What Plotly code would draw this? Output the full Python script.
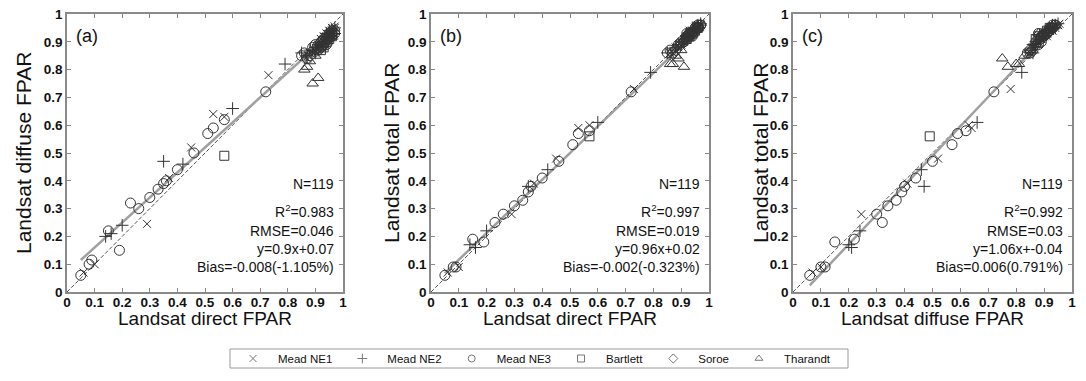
import plotly.graph_objects as go

# ---------------- data (direct FPAR, diffuse FPAR, total FPAR) ----------------
ne1_direct  = [0.06, 0.10, 0.29, 0.37, 0.45, 0.53, 0.57, 0.73,
               0.86, 0.87, 0.88, 0.89, 0.90, 0.91, 0.91, 0.92, 0.93, 0.93, 0.94, 0.94, 0.95, 0.95, 0.96, 0.96, 0.97, 0.97,
               0.93, 0.95, 0.96, 0.94, 0.92, 0.97]
ne1_diffuse = [0.07, 0.10, 0.245, 0.41, 0.52, 0.64, 0.63, 0.78,
               0.85, 0.84, 0.86, 0.86, 0.87, 0.88, 0.89, 0.89, 0.90, 0.91, 0.91, 0.92, 0.92, 0.93, 0.93, 0.94, 0.94, 0.95,
               0.92, 0.94, 0.95, 0.93, 0.91, 0.955]
ne1_total   = [0.07, 0.09, 0.28, 0.39, 0.48, 0.59, 0.60, 0.73,
               0.86, 0.86, 0.88, 0.88, 0.89, 0.90, 0.91, 0.91, 0.92, 0.93, 0.93, 0.94, 0.94, 0.95, 0.95, 0.96, 0.96, 0.96,
               0.94, 0.95, 0.96, 0.94, 0.92, 0.965]

ne2_direct  = [0.14, 0.16, 0.20, 0.35, 0.42, 0.60, 0.79,
               0.85, 0.87, 0.88, 0.89, 0.90, 0.90, 0.91, 0.92, 0.92, 0.93, 0.94, 0.94, 0.95, 0.95, 0.96, 0.96, 0.97,
               0.93, 0.95, 0.96, 0.97, 0.91, 0.94]
ne2_diffuse = [0.20, 0.21, 0.24, 0.47, 0.46, 0.66, 0.82,
               0.86, 0.85, 0.87, 0.87, 0.88, 0.86, 0.89, 0.90, 0.88, 0.91, 0.90, 0.92, 0.91, 0.93, 0.92, 0.94, 0.93,
               0.89, 0.94, 0.91, 0.95, 0.87, 0.93]
ne2_total   = [0.17, 0.16, 0.22, 0.38, 0.44, 0.61, 0.79,
               0.86, 0.87, 0.88, 0.89, 0.90, 0.89, 0.91, 0.92, 0.91, 0.93, 0.93, 0.94, 0.94, 0.95, 0.95, 0.96, 0.96,
               0.92, 0.95, 0.94, 0.965, 0.90, 0.95]

ne3_direct  = [0.05, 0.08, 0.09, 0.15, 0.19, 0.23, 0.26, 0.30, 0.33, 0.35, 0.36, 0.40, 0.46, 0.51, 0.53, 0.57, 0.72,
               0.85, 0.86, 0.88, 0.89, 0.90, 0.91, 0.92, 0.92, 0.93, 0.94, 0.95, 0.96, 0.96, 0.97,
               0.93, 0.95, 0.94, 0.96, 0.97, 0.87]
ne3_diffuse = [0.06, 0.10, 0.115, 0.22, 0.15, 0.32, 0.30, 0.34, 0.37, 0.39, 0.40, 0.44, 0.50, 0.57, 0.59, 0.62, 0.72,
               0.85, 0.86, 0.85, 0.88, 0.89, 0.87, 0.90, 0.88, 0.89, 0.91, 0.92, 0.93, 0.92, 0.94,
               0.91, 0.93, 0.89, 0.94, 0.93, 0.84]
ne3_total   = [0.06, 0.09, 0.09, 0.19, 0.18, 0.25, 0.28, 0.31, 0.33, 0.36, 0.38, 0.41, 0.47, 0.53, 0.57, 0.58, 0.72,
               0.86, 0.87, 0.87, 0.89, 0.90, 0.90, 0.92, 0.93, 0.92, 0.93, 0.94, 0.95, 0.95, 0.96,
               0.93, 0.95, 0.92, 0.96, 0.96, 0.86]

bar_direct  = [0.57, 0.92, 0.93, 0.94, 0.95, 0.96]
bar_diffuse = [0.49, 0.87, 0.88, 0.90, 0.91, 0.92]
bar_total   = [0.56, 0.91, 0.92, 0.93, 0.94, 0.95]

sor_direct  = [0.90, 0.91, 0.92, 0.93, 0.94, 0.95, 0.96]
sor_diffuse = [0.87, 0.88, 0.90, 0.89, 0.91, 0.92, 0.93]
sor_total   = [0.89, 0.90, 0.92, 0.92, 0.93, 0.94, 0.95]

tha_direct  = [0.89, 0.91, 0.86, 0.87, 0.88, 0.90, 0.92, 0.93]
tha_diffuse = [0.75, 0.77, 0.80, 0.81, 0.83, 0.85, 0.88, 0.89]
tha_total   = [0.84, 0.81, 0.82, 0.82, 0.85, 0.87, 0.93, 0.92]

site_names = ["Mead NE1", "Mead NE2", "Mead NE3", "Bartlett", "Soroe", "Tharandt"]
site_symbols = ["x-thin-open", "cross-thin-open", "circle-open", "square-open", "diamond-open", "triangle-up-open"]
site_sizes = [8, 9, 10, 9, 9, 10]

panel_labels = ["(a)", "(b)", "(c)"]
x_titles = ["Landsat direct FPAR", "Landsat direct FPAR", "Landsat diffuse FPAR"]
y_titles = ["Landsat diffuse FPAR", "Landsat total FPAR", "Landsat total FPAR"]
n_obs = [119, 119, 119]
r2_vals = ["0.983", "0.997", "0.992"]
rmse_vals = ["0.046", "0.019", "0.03"]
slopes = [0.9, 0.96, 1.06]
intercepts = [0.07, 0.02, -0.04]
eq_texts = ["y=0.9x+0.07", "y=0.96x+0.02", "y=1.06x+-0.04"]
bias_texts = ["Bias=-0.008(-1.105%)", "Bias=-0.002(-0.323%)", "Bias=0.006(0.791%)"]
fit_ranges = [(0.05, 0.97), (0.05, 0.97), (0.06, 0.95)]

ticks = [0, 0.1, 0.2, 0.3, 0.4, 0.5, 0.6, 0.7, 0.8, 0.9, 1]
tick_text = ["0", "0.1", "0.2", "0.3", "0.4", "0.5", "0.6", "0.7", "0.8", "0.9", "1"]

# ---------------- figure ----------------
sites = {
    "direct": [ne1_direct, ne2_direct, ne3_direct, bar_direct, sor_direct, tha_direct],
    "diffuse": [ne1_diffuse, ne2_diffuse, ne3_diffuse, bar_diffuse, sor_diffuse, tha_diffuse],
    "total": [ne1_total, ne2_total, ne3_total, bar_total, sor_total, tha_total],
}
panel_xy = [("direct", "diffuse"), ("direct", "total"), ("diffuse", "total")]

FONT = "Liberation Sans, Arial, sans-serif"
fig = go.Figure()

W, H = 1086, 381
ml, mr, mt, mb = 67, 14, 14, 89
pw = W - ml - mr
ph = H - mt - mb
px_domains = [(67, 343), (431, 709), (793, 1072)]
domains = [((a - ml) / pw, (b - ml) / pw) for a, b in px_domains]
ytitle_shift = [-44, -40, -33]

for p in range(3):
    xa = "x" if p == 0 else f"x{p+1}"
    ya = "y" if p == 0 else f"y{p+1}"
    # 1:1 line
    fig.add_trace(go.Scatter(x=[0, 1], y=[0, 1], mode="lines", xaxis=xa, yaxis=ya,
                             line=dict(color="#555555", width=1, dash="4px,2px"),
                             showlegend=False, hoverinfo="skip"))
    # regression line
    x0, x1 = fit_ranges[p]
    fig.add_trace(go.Scatter(x=[x0, x1],
                             y=[slopes[p] * x0 + intercepts[p], slopes[p] * x1 + intercepts[p]],
                             mode="lines", xaxis=xa, yaxis=ya,
                             line=dict(color="#a0a0a0", width=2.5),
                             showlegend=False, hoverinfo="skip"))
    kx, ky = panel_xy[p]
    for s in range(6):
        fig.add_trace(go.Scatter(
            x=sites[kx][s], y=sites[ky][s], mode="markers", xaxis=xa, yaxis=ya,
            name=site_names[s], legendgroup=site_names[s], showlegend=False,
            marker=dict(symbol=site_symbols[s], size=site_sizes[s], color="#333333",
                        line=dict(width=1, color="#333333"))))

    axis_common = dict(range=[0, 1], tickvals=ticks, ticktext=tick_text, ticks="inside",
                       ticklen=4, tickcolor="#888888", showline=True, linecolor="#8a8a8a",
                       linewidth=1.5, mirror="ticks", showgrid=False, zeroline=False,
                       automargin=False,
                       tickfont=dict(family=FONT, size=13.5, color="#111111", weight="bold"))
    fig.update_layout(**{
        ("xaxis" if p == 0 else f"xaxis{p+1}"): dict(axis_common, domain=list(domains[p]), anchor=ya,
                                                      ticklabelstandoff=-3),
        ("yaxis" if p == 0 else f"yaxis{p+1}"): dict(axis_common, domain=[0, 1], anchor=xa),
    })

    # axis titles
    fig.add_annotation(x=0.5, y=0, xref=f"{xa} domain", yref=f"{ya} domain", yshift=-26,
                       text=x_titles[p], showarrow=False, xanchor="center", yanchor="middle",
                       font=dict(family=FONT, size=19, color="#111111"))
    fig.add_annotation(x=0, y=0.5, xref=f"{xa} domain", yref=f"{ya} domain", xshift=ytitle_shift[p],
                       text=y_titles[p], textangle=-90, showarrow=False,
                       xanchor="center", yanchor="middle",
                       font=dict(family=FONT, size=21, color="#111111"))

    fig.add_annotation(x=0.025, y=0.965, xref=xa, yref=ya, text=panel_labels[p], showarrow=False,
                       xanchor="left", yanchor="top", font=dict(family=FONT, size=18, color="#111111"))
    stats = [f"N={n_obs[p]}", f"R<sup>2</sup>={r2_vals[p]}", f"RMSE={rmse_vals[p]}", eq_texts[p], bias_texts[p]]
    ys = [0.39, 0.29, 0.22, 0.155, 0.09]
    for t, yv in zip(stats, ys):
        fig.add_annotation(x=0.975, y=yv, xref=xa, yref=ya, text=t, showarrow=False,
                           xanchor="right", yanchor="middle",
                           font=dict(family=FONT, size=14, color="#111111"))

# legend entries (small gray symbols, as in the reference key)
for s in range(6):
    fig.add_trace(go.Scatter(
        x=[None], y=[None], mode="markers", name=site_names[s], legendgroup=site_names[s],
        showlegend=True, hoverinfo="skip",
        marker=dict(symbol=site_symbols[s], size=7, color="#777777",
                    line=dict(width=1, color="#777777"))))

# legend frame (thin box like the reference key)
box_l, box_r, box_t, box_b = 230, 848, 349, 368
fig.add_shape(type="rect", xref="paper", yref="paper",
              x0=(box_l - ml) / pw, x1=(box_r - ml) / pw,
              y0=(H - mb - box_b) / ph, y1=(H - mb - box_t) / ph,
              line=dict(color="#9a9a9a", width=1), fillcolor="rgba(0,0,0,0)", layer="above")

fig.update_layout(
    width=W, height=H, margin=dict(l=ml, r=mr, t=mt, b=mb, autoexpand=False),
    paper_bgcolor="white", plot_bgcolor="white",
    legend=dict(orientation="h", x=(532 - ml) / pw, xanchor="center",
                y=(H - mb - (box_t + box_b) / 2) / ph, yanchor="middle",
                bgcolor="rgba(0,0,0,0)", borderwidth=0, itemwidth=40,
                font=dict(family=FONT, size=11.5, color="#111111")),
)

fig.write_html("out.html")
